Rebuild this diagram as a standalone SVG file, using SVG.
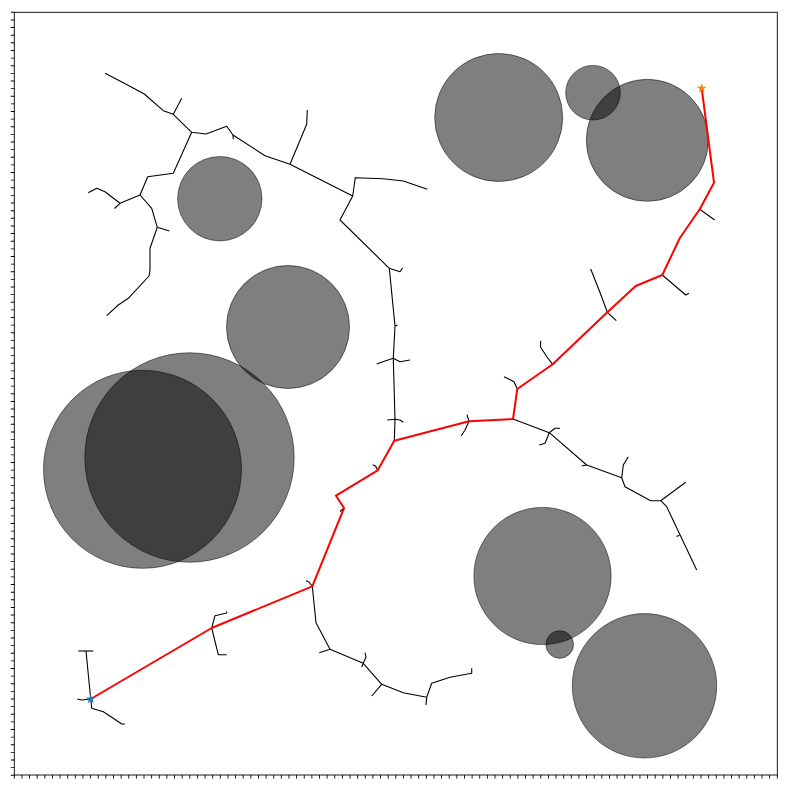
<svg xmlns="http://www.w3.org/2000/svg" width="793" height="788" viewBox="0 0 793 788">
<style>
.obs{fill:#000;fill-opacity:0.5;stroke:#000;stroke-opacity:0.5;stroke-width:1}
.tr{fill:none;stroke:#000;stroke-width:1.1;stroke-linejoin:round}
.pt{fill:none;stroke:#ff0000;stroke-width:2;stroke-linejoin:round}
.ax{fill:none;stroke:#000;stroke-width:0.9}
.tk{fill:none;stroke:#000;stroke-width:3.5;stroke-dasharray:0.9 6.73}
</style>
<defs>
<path id="star" d="M0,-5.2 L1.17,-1.61 L4.95,-1.61 L1.9,0.61 L3.06,4.21 L0,1.99 L-3.06,4.21 L-1.9,0.61 L-4.95,-1.61 L-1.17,-1.61 Z"/>
</defs>
<rect x="0" y="0" width="793" height="788" fill="#fff"/>
<g id="obstacles">
<circle id="o1" class="obs" cx="498.7" cy="117.5" r="64"/>
<circle id="o2" class="obs" cx="593" cy="92.7" r="27.3"/>
<circle id="o3" class="obs" cx="647.3" cy="140.3" r="61"/>
<circle id="o4" class="obs" cx="219.8" cy="198.7" r="42.2"/>
<circle id="o5" class="obs" cx="288" cy="327" r="61.5"/>
<circle id="o6" class="obs" cx="142.5" cy="469.3" r="99"/>
<circle id="o7" class="obs" cx="189.5" cy="457.5" r="104.7"/>
<circle id="o8" class="obs" cx="542.5" cy="576" r="68.6"/>
<circle id="o9" class="obs" cx="559.7" cy="644.5" r="13.8"/>
<circle id="o10" class="obs" cx="644.5" cy="685.8" r="72.2"/>
</g>
<g id="tree" class="tr">
<polyline points="105,73.3 124.3,83.3 144.3,94 163.3,110.7 173.3,114.3 191.7,132.3 206,134 226.7,126.3 233,135 265,155.7 290,164.3 352.7,196 340,220 389.3,268.3 395,326 393.3,358.3 395,420 394.3,440.7"/>
<polyline points="233,135 233.3,139.3"/>
<polyline points="173.3,114.3 181.7,98.3"/>
<polyline points="191.7,132.3 173.3,173.3 147.7,176.7 140,195 151.7,208.3 157.3,227.3 150,248.3 150,270 149,276 128.3,298.3 118.3,305 106.7,315.7"/>
<polyline points="140,195 120,203.3 105,191.7 96.7,188.3 88.3,192.7"/>
<polyline points="120,203.3 114.5,208.5"/>
<polyline points="157.3,227.3 169.3,231"/>
<polyline points="290,164.3 306.7,124.3 307.3,110"/>
<polyline points="352.7,196 355.3,177.7 383.3,178.7 403.3,181 427.3,189.3"/>
<polyline points="389.3,268.3 400,271.7 402.7,267.7"/>
<polyline points="395,326 397.7,325"/>
<polyline points="376.7,364 385,361 393.3,358.3 400,361.7 410,360"/>
<polyline points="387.3,420 395,419.3 400,420 403.3,422.3"/>
<polyline points="86,651 90.7,699"/>
<polyline points="78.3,651 93.3,651"/>
<polyline points="77.3,699 81.7,700 90.7,699"/>
<polyline points="90.7,699 91.7,708.3 103.3,711.7 113.3,718.3 121.7,724 125,724"/>
<polyline points="211.7,628 215,615.7 226.7,613 226.7,611.5"/>
<polyline points="211.7,628 218.3,654.7 226.7,654.7"/>
<polyline points="306,580.7 309,582 312.3,586.3"/>
<polyline points="312.3,586.3 316,622.7 330,649.3 363.3,663.3 381.7,684.3 403.3,692.7 426.7,697.3 431.7,683.3 450,677.3 471.7,673.3 471.7,668.3"/>
<polyline points="330,649.3 319.3,652.7"/>
<polyline points="361.7,667 363.3,663.3 366,657 365,652.7"/>
<polyline points="381.7,684.3 371.7,696"/>
<polyline points="426.7,697.3 426,705"/>
<polyline points="344,508 340,511.5"/>
<polyline points="377.7,470.3 375.5,466 372.7,464.7"/>
<polyline points="469,421.3 467,414.7"/>
<polyline points="469,421.3 465,430 461.3,435.7"/>
<polyline points="513,419 549.3,432.7 586.7,465 621.7,477.7 625,486.7 650.7,500.7 660.7,500.7 666.7,506.7 696.7,570"/>
<polyline points="549.3,432.7 555,428.3 560,428.3"/>
<polyline points="549.3,432.7 545,443.3 539.3,445"/>
<polyline points="586.7,465 581.7,466"/>
<polyline points="621.7,477.7 623.3,465 628.3,456.7"/>
<polyline points="660.7,500.7 685.7,482.3"/>
<polyline points="676.5,536.5 679.5,535.3"/>
<polyline points="517.3,389 514,381.7 504,376.7"/>
<polyline points="552.7,364.3 547,357 540.5,347 540.7,340.7"/>
<polyline points="552.7,364.3 555,362.7"/>
<polyline points="607.3,312.3 600.3,293.3 590.7,269"/>
<polyline points="607.3,312.3 616.3,320.7"/>
<polyline points="662.3,275 685.7,295 689,293.3"/>
<polyline points="699.7,209.3 714.7,220"/>
</g>
<g id="path">
<polyline class="pt" points="90.7,699 211.7,628 312.3,586.3 344,508 336,495.7 377.7,470.3 394.3,440.7 469,421.3 513,419 517.3,389 552.7,364.3 607.3,312.3 635.7,286 662.3,275 679.7,238.3 699.7,209.3 714,182.7 701.7,88.3"/>
</g>
<g id="start"><use href="#star" x="90.7" y="699" fill="#1f77b4"/></g>
<g id="goal"><use href="#star" x="701.7" y="88.3" fill="#ff7f0e"/></g>
<g id="axes">
<rect class="ax" x="14.3" y="12.3" width="763" height="762.7"/>
<line class="tk" x1="13.85" y1="776.75" x2="778.2" y2="776.75"/>
<line class="tk" x1="12.55" y1="11.85" x2="12.55" y2="776"/>
</g>
</svg>
